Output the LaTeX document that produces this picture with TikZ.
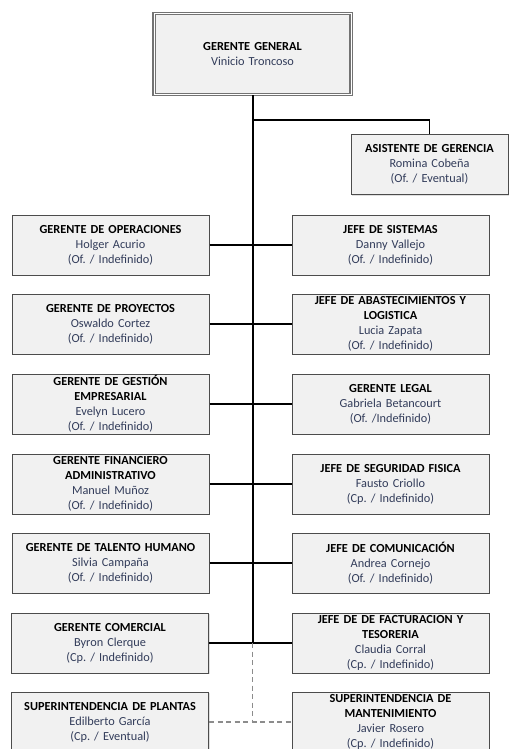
\documentclass[tikz,border=0pt]{standalone}
\usepackage{fontspec}
\setmainfont{Carlito}
\frenchspacing
\usetikzlibrary{shadows}
\definecolor{nombre}{RGB}{50,60,90}
\definecolor{caja}{RGB}{241,241,241}
\tikzstyle{puesto}=[
    draw=black!70, line width=1pt,
    fill=caja,
    drop shadow={shadow xshift=1pt, shadow yshift=-1pt, opacity=0.25},
    minimum width=197pt, minimum height=60pt,
    text width=190pt, align=center, inner sep=0pt,
    font=\fontsize{12.3}{15}\selectfont,
]
\tikzstyle{enlace}=[line width=1.1pt]
\tikzstyle{eventual}=[line width=1.3pt, black!45, dash pattern=on 5pt off 3.5pt]
\newcommand{\cargo}[3]{\textbf{#1}\\\textcolor{nombre}{#2}\\\textcolor{nombre}{#3}}

\begin{document}
\begin{tikzpicture}[x=1pt, y=-1pt]
        \useasboundingbox (0,0) rectangle (511,749);
        \clip (0,0) rectangle (511,749);
        \node (gg) at (252.5, 54) [puesto, minimum width=197pt, minimum height=81pt,
            double=white, double distance=1pt, draw=black!55, line width=1.2pt]
            {\textbf{GERENTE GENERAL}\\\textcolor{nombre}{Vinicio Troncoso}};
        \node (asis) at (429.5, 164.5) [puesto, minimum width=157pt, minimum height=60pt, text width=155pt]
            {\cargo{ASISTENTE DE GERENCIA}{Romina Cobeña}{(Of. / Eventual)}};
        % columna izquierda
        \node (oper) at (110.5, 245) [puesto] {\cargo{GERENTE DE OPERACIONES}{Holger Acurio}{(Of. / Indefinido)}};
        \node (proy) at (110.5, 324) [puesto] {\cargo{GERENTE DE PROYECTOS}{Oswaldo Cortez}{(Of. / Indefinido)}};
        \node (gest) at (110.5, 404) [puesto] {\textbf{GERENTE DE GESTIÓN}\\\textbf{EMPRESARIAL}\\\textcolor{nombre}{Evelyn Lucero}\\\textcolor{nombre}{(Of. / Indefinido)}};
        \node (fina) at (110.5, 484) [puesto] {\textbf{GERENTE FINANCIERO}\\\textbf{ADMINISTRATIVO}\\\textcolor{nombre}{Manuel Muñoz}\\\textcolor{nombre}{(Of. / Indefinido)}};
        \node (tale) at (110.5, 563) [puesto] {\cargo{GERENTE DE TALENTO HUMANO}{Silvia Campaña}{(Of. / Indefinido)}};
        \node (come) at (110, 643) [puesto] {\cargo{GERENTE COMERCIAL}{Byron Clerque}{(Cp. / Indefinido)}};
        \node (plan) at (110, 722) [puesto] {\cargo{SUPERINTENDENCIA DE PLANTAS}{Edilberto García}{(Cp. / Eventual)}};
        % columna derecha
        \node (sist) at (390.5, 245) [puesto] {\cargo{JEFE DE SISTEMAS}{Danny Vallejo}{(Of. / Indefinido)}};
        \node (abas) at (390.5, 324) [puesto] {\textbf{JEFE DE ABASTECIMIENTOS Y}\\\textbf{LOGISTICA}\\\textcolor{nombre}{Lucia Zapata}\\\textcolor{nombre}{(Of. / Indefinido)}};
        \node (lega) at (390.5, 404) [puesto] {\cargo{GERENTE LEGAL}{Gabriela Betancourt}{(Of. /Indefinido)}};
        \node (segu) at (390.5, 484) [puesto] {\cargo{JEFE DE SEGURIDAD FISICA}{Fausto Criollo}{(Cp. / Indefinido)}};
        \node (comu) at (390.5, 563) [puesto] {\cargo{JEFE DE COMUNICACIÓN}{Andrea Cornejo}{(Of. / Indefinido)}};
        \node (fact) at (390.5, 643) [puesto] {\textbf{JEFE DE DE FACTURACION Y}\\\textbf{TESORERIA}\\\textcolor{nombre}{Claudia Corral}\\\textcolor{nombre}{(Cp. / Indefinido)}};
        \node (mant) at (390.5, 722) [puesto] {\textbf{SUPERINTENDENCIA DE}\\\textbf{MANTENIMIENTO}\\\textcolor{nombre}{Javier Rosero}\\\textcolor{nombre}{(Cp. / Indefinido)}};
        % lineas
        \coordinate (ramal) at (252.5, 120);
        \coordinate (fin) at (252.5, 643);
        \coordinate (pie) at (252.5, 722);
        \draw[line width=2pt] (gg.south) -- (fin);
        \draw[enlace] (ramal) -| (asis.north);
        \draw[enlace] (oper.east) -- (sist.west);
        \draw[enlace] (proy.east) -- (abas.west);
        \draw[enlace] (gest.east) -- (lega.west);
        \draw[enlace] (fina.east) -- (segu.west);
        \draw[enlace] (tale.east) -- (comu.west);
        \draw[enlace] (come.east) -- (fact.west);
        \draw[eventual] (fin) -- (pie);
        \draw[eventual] (plan.east) -- (mant.west);
    \end{tikzpicture}
\end{document}
